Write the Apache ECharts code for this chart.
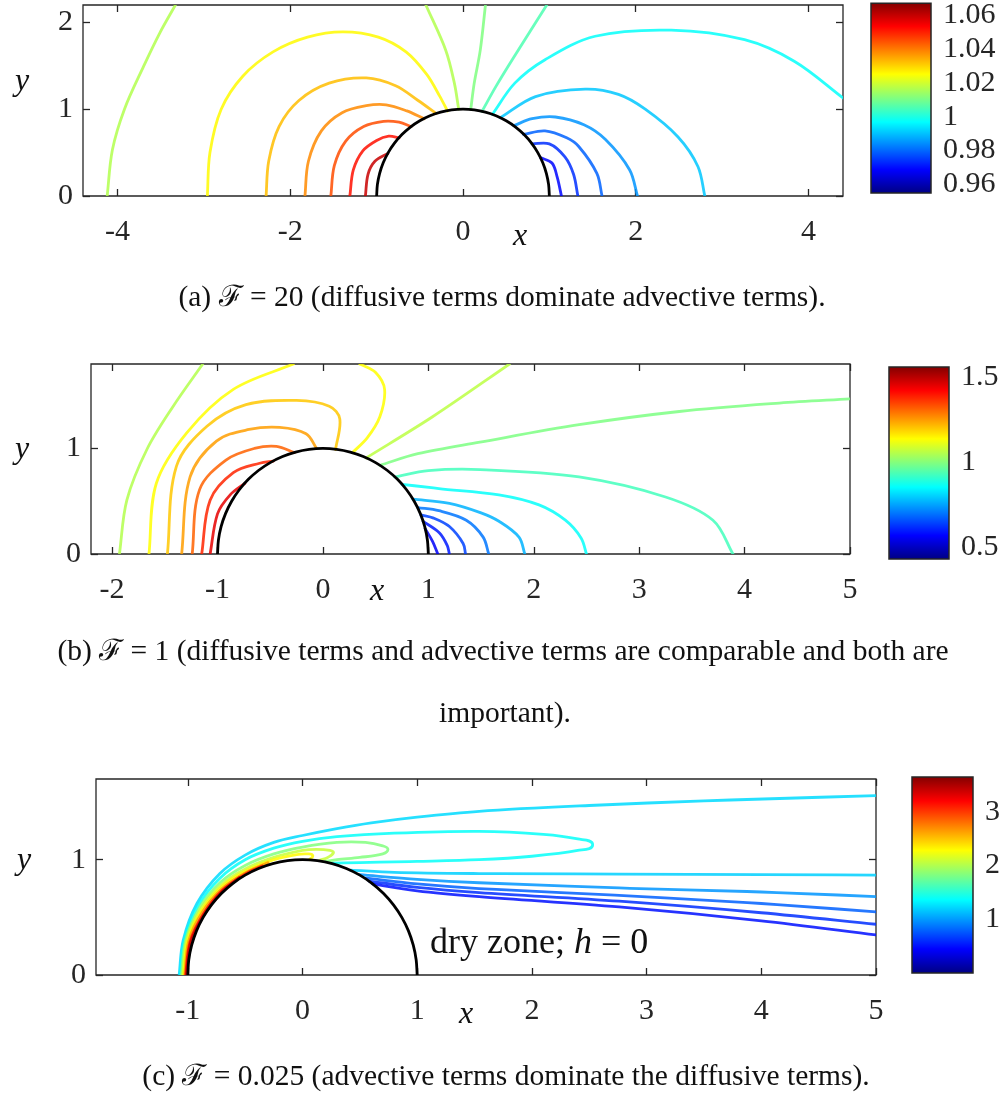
<!DOCTYPE html>
<html><head><meta charset="utf-8">
<script src="https://cdn.jsdelivr.net/npm/echarts@6/dist/echarts.min.js"></script>
<style>html,body{margin:0;padding:0;background:#fff}#c{width:1007px;height:1095px}</style>
</head><body><div id="c"></div>
<script>
// ---------- shared: dry-zone boundary (unit semicircle outline)
const circle = [[-1,0],[-0.9914,0.1305],[-0.9659,0.2588],[-0.9239,0.3827],[-0.866,0.5],[-0.7934,0.6088],[-0.7071,0.7071],[-0.6088,0.7934],[-0.5,0.866],[-0.3827,0.9239],[-0.2588,0.9659],[-0.1305,0.9914],[0,1],
  [0.1305,0.9914],[0.2588,0.9659],[0.3827,0.9239],[0.5,0.866],[0.6088,0.7934],[0.7071,0.7071],[0.7934,0.6088],[0.866,0.5],[0.9239,0.3827],[0.9659,0.2588],[0.9914,0.1305],[1,0]];

// ---------- panel (a): F = 20
const aXRange = [-4.4, 4.4];
const aYRange = [0, 2.2];
const aXTicks = [-4, -2, 0, 2, 4];
const aYTicks = [0, 1, 2];
const aBarRange = [0.955, 1.067];
const aBarTicks = [0.96, 0.98, 1, 1.02, 1.04, 1.06];
const aLevels = [1.0166, 1.0256, 1.0323, 1.0379, 1.0446, 1.0513, 1.059, 1.0166, 1.011, 1.0054, 0.9976, 0.9908, 0.9852, 0.9796, 0.974, 0.9696];
const aLines = [
  [[-4.12,0],[-4.06,0.53],[-3.92,1.0],[-3.70,1.49],[-3.51,1.88],[-3.33,2.2]],
  [[-2.96,0],[-2.93,0.5],[-2.8,1.0],[-2.55,1.38],[-2.2,1.66],[-1.8,1.83],[-1.39,1.89],[-0.98,1.83],[-0.66,1.66],[-0.42,1.4],[-0.27,1.15],[-0.18,0.98]],
  [[-2.28,0],[-2.25,0.4],[-2.13,0.8],[-1.9,1.1],[-1.55,1.3],[-1.12,1.36],[-0.78,1.27],[-0.52,1.1],[-0.31,0.95]],
  [[-1.83,0],[-1.79,0.4],[-1.64,0.75],[-1.4,0.96],[-1.12,1.04],[-0.89,1.05],[-0.65,0.98],[-0.45,0.89]],
  [[-1.53,0],[-1.49,0.35],[-1.36,0.63],[-1.15,0.8],[-0.92,0.86],[-0.74,0.85],[-0.6,0.8]],
  [[-1.31,0],[-1.27,0.3],[-1.16,0.52],[-1.0,0.64],[-0.86,0.69],[-0.74,0.67]],
  [[-1.13,0],[-1.1,0.25],[-1.02,0.4],[-0.87,0.49]],
  [[-0.43,2.2],[-0.2,1.68],[-0.1,1.3],[-0.05,1.0]],
  [[0.26,2.2],[0.2,1.68],[0.13,1.3],[0.09,1.0]],
  [[0.97,2.2],[0.57,1.57],[0.38,1.26],[0.22,0.975]],
  [[0.34,0.94],[0.6,1.3],[0.95,1.57],[1.53,1.84],[2.41,1.91],[3.26,1.80],[3.84,1.55],[4.4,1.13]],
  [[0.43,0.9],[0.84,1.145],[1.415,1.23],[1.8,1.17],[2.11,1.0],[2.49,0.68],[2.72,0.34],[2.80,0]],
  [[0.59,0.81],[0.8,0.89],[1.07,0.91],[1.4,0.82],[1.65,0.65],[1.93,0.3],[2.02,0]],
  [[0.7,0.71],[0.95,0.75],[1.2,0.67],[1.34,0.57],[1.55,0.26],[1.61,0]],
  [[0.8,0.6],[1.0,0.6],[1.18,0.45],[1.28,0.25],[1.33,0]],
  [[0.9,0.44],[1.03,0.38],[1.09,0.22],[1.14,0]]
];

// ---------- panel (b): F = 1
const bXRange = [-2.2, 5];
const bYRange = [0, 1.8];
const bXTicks = [-2, -1, 0, 1, 2, 3, 4, 5];
const bYTicks = [0, 1];
const bBarRange = [0.428, 1.557];
const bBarTicks = [0.5, 1, 1.5];
const bLevels = [1.049, 1.134, 1.134, 1.196, 1.241, 1.309, 1.376, 1.444, 1.06, 0.99, 0.925, 0.857, 0.767, 0.70, 0.642, 0.597, 0.56];
const bLines = [
  [[-1.93,0],[-1.86,0.51],[-1.67,0.99],[-1.42,1.40],[-1.14,1.8]],
  [[-1.65,0],[-1.58,0.67],[-1.29,1.15],[-0.85,1.56],[-0.28,1.8]],
  [[0.35,1.8],[0.5,1.72],[0.585,1.56],[0.54,1.30],[0.42,1.1],[0.28,0.96]],
  [[-1.475,0],[-1.39,0.83],[-1.1,1.21],[-0.73,1.415],[-0.25,1.455],[0.06,1.40],[0.16,1.28],[0.12,0.99]],
  [[-1.34,0],[-1.26,0.73],[-1.01,1.07],[-0.7,1.18],[-0.41,1.20],[-0.16,1.14],[-0.06,1.0]],
  [[-1.24,0],[-1.17,0.61],[-0.92,0.89],[-0.65,1.0],[-0.44,1.02],[-0.27,0.96]],
  [[-1.15,0],[-1.07,0.51],[-0.85,0.77],[-0.6,0.86],[-0.47,0.88]],
  [[-1.07,0],[-1.0,0.38],[-0.88,0.56],[-0.74,0.67]],
  [[0.41,0.91],[1.04,1.30],[1.77,1.8]],
  [[0.54,0.84],[0.9,0.95],[1.49,1.06],[2.43,1.225],[3.38,1.35],[4.33,1.43],[5.0,1.47]],
  [[0.68,0.73],[1.0,0.79],[1.49,0.80],[2.43,0.73],[3.25,0.54],[3.70,0.32],[3.89,0]],
  [[0.75,0.66],[1.1,0.62],[1.67,0.56],[2.05,0.465],[2.3,0.32],[2.45,0.15],[2.5,0]],
  [[0.855,0.52],[1.2,0.48],[1.5,0.39],[1.67,0.31],[1.86,0.16],[1.915,0]],
  [[0.9,0.44],[1.1,0.41],[1.36,0.32],[1.52,0.16],[1.573,0]],
  [[0.93,0.37],[1.05,0.34],[1.2,0.26],[1.33,0.1],[1.353,0]],
  [[0.95,0.31],[1.106,0.2],[1.18,0.08],[1.2,0]],
  [[0.97,0.24],[1.04,0.12],[1.09,0]]
];

// ---------- panel (c): F = 0.025
const cXRange = [-1.8, 5];
const cYRange = [0, 1.7];
const cXTicks = [-1, 0, 1, 2, 3, 4, 5];
const cYTicks = [0, 1];
const cBarRange = [0, 3.65];
const cBarTicks = [1, 2, 3];
const cLevels = [1.24, 1.39, 1.83, 2.08, 2.30, 2.63, 3.10, 3.39, 1.2, 0.99, 0.80, 0.62, 0.51];
const cLines = [
  [[-1.075,0],[-1.04,0.3],[-0.92,0.62],[-0.72,0.88],[-0.5,1.04],[-0.25,1.15],[0,1.21],[0.3,1.27],[0.6,1.32],[1.0,1.37],[1.54,1.42],[2.5,1.47],[3.5,1.51],[5.0,1.556]],
  [[-1.065,0],[-1.03,0.3],[-0.91,0.6],[-0.72,0.84],[-0.5,1.0],[-0.25,1.1],[0,1.16],[0.3,1.2],[0.8,1.23],[1.54,1.246],[2.1,1.22],[2.4,1.18],[2.53,1.13],[2.4,1.08],[2.0,1.03],[1.54,1.0],[1.0,0.985],[0.5,0.975],[0.25,0.97]],
  [[-1.055,0],[-1.02,0.3],[-0.9,0.58],[-0.72,0.8],[-0.5,0.95],[-0.25,1.05],[0,1.11],[0.3,1.15],[0.55,1.15],[0.7,1.12],[0.745,1.09],[0.7,1.05],[0.5,1.02],[0.3,1.0],[0.2,0.985]],
  [[-1.045,0],[-1.01,0.3],[-0.89,0.57],[-0.71,0.78],[-0.5,0.92],[-0.25,1.02],[0,1.08],[0.12,1.09],[0.24,1.08],[0.27,1.06],[0.22,1.02],[0.15,0.995]],
  [[-1.035,0],[-1.0,0.3],[-0.88,0.56],[-0.7,0.77],[-0.5,0.9],[-0.25,1.0],[-0.05,1.045],[0.05,1.05],[0.09,1.035],[0.06,1.0]],
  [[-1.027,0],[-0.99,0.3],[-0.87,0.55],[-0.7,0.75],[-0.5,0.885],[-0.3,0.975]],
  [[-1.019,0],[-0.98,0.29],[-0.86,0.535],[-0.7,0.735],[-0.5,0.875],[-0.35,0.945]],
  [[-1.012,0],[-0.975,0.28],[-0.86,0.52],[-0.7,0.725],[-0.55,0.845]],
  [[0.42,0.91],[0.8,0.89],[1.54,0.88],[2.76,0.875],[4.0,0.87],[5.0,0.867]],
  [[0.5,0.87],[1.0,0.83],[1.54,0.8],[2.76,0.755],[4.0,0.72],[5.0,0.68]],
  [[0.55,0.84],[1.0,0.79],[1.54,0.75],[2.76,0.69],[4.0,0.62],[5.0,0.548]],
  [[0.58,0.815],[1.0,0.76],[1.54,0.715],[2.76,0.64],[4.0,0.54],[5.0,0.44]],
  [[0.61,0.79],[1.0,0.73],[1.54,0.68],[2.76,0.59],[4.0,0.47],[5.0,0.348]]
];

// ---------- captions
const captionA = '(a) ℱ = 20 (diffusive terms dominate advective terms).';
const captionB1 = '(b) ℱ = 1 (diffusive terms and advective terms are comparable and both are';
const captionB2 = 'important).';
const captionC = '(c) ℱ = 0.025 (advective terms dominate the diffusive terms).';

// ================= rendering =================
const FONT = '"Liberation Serif","Times New Roman",serif';
const INK = '#262626';
function jet(f){
  f = Math.max(0, Math.min(1, f));
  const c = t => Math.round(255 * Math.max(0, Math.min(1, 1.5 - Math.abs(4 * f - t))));
  return 'rgb(' + c(3) + ',' + c(2) + ',' + c(1) + ')';
}
const jetStops = [0, 0.125, 0.25, 0.375, 0.5, 0.625, 0.75, 0.875, 1].map(o => ({offset: o, color: jet(o)}));

// smooth path through pixel points: tangent from neighbours, handle length = segment/3
function smoothPath(P){
  const n = P.length;
  const tan = i => {
    const a = P[Math.max(0, i - 1)], b = P[Math.min(n - 1, i + 1)];
    const dx = b[0] - a[0], dy = b[1] - a[1], L = Math.hypot(dx, dy) || 1;
    return [dx / L, dy / L];
  };
  let d = 'M' + P[0][0] + ',' + P[0][1];
  for (let i = 0; i < n - 1; i++) {
    const L = Math.hypot(P[i + 1][0] - P[i][0], P[i + 1][1] - P[i][1]) / 3;
    const t0 = tan(i), t1 = tan(i + 1);
    d += ' C' + (P[i][0] + t0[0] * L) + ',' + (P[i][1] + t0[1] * L) + ' ' +
         (P[i + 1][0] - t1[0] * L) + ',' + (P[i + 1][1] - t1[1] * L) + ' ' + P[i + 1][0] + ',' + P[i + 1][1];
  }
  return d;
}
function curveSeries(xi, yi, pts, color, width, opacity, z){
  return {type: 'custom', xAxisIndex: xi, yAxisIndex: yi, data: pts, encode: {x: 0, y: 1},
    silent: true, clip: true, z: z,
    renderItem: (params, api) => {
      if (params.dataIndex !== 0) return null;
      const P = pts.map(q => api.coord(q));
      return {type: 'path', shape: {pathData: smoothPath(P)},
        style: {fill: null, stroke: color, lineWidth: width, opacity: opacity, lineJoin: 'round', lineCap: 'round'}};
    }};
}

const panels = [
  {grid: {left: 83, top: 5, width: 760, height: 191}, bar: {left: 871, top: 2, width: 60, height: 191},
   xr: aXRange, yr: aYRange, xt: aXTicks, yt: aYTicks, br: aBarRange, bt: aBarTicks, lv: aLevels, ln: aLines},
  {grid: {left: 91, top: 364, width: 759, height: 190}, bar: {left: 889, top: 367, width: 60, height: 192},
   xr: bXRange, yr: bYRange, xt: bXTicks, yt: bYTicks, br: bBarRange, bt: bBarTicks, lv: bLevels, ln: bLines},
  {grid: {left: 96, top: 779, width: 780, height: 196}, bar: {left: 912, top: 777, width: 61, height: 196},
   xr: cXRange, yr: cYRange, xt: cXTicks, yt: cYTicks, br: cBarRange, bt: cBarTicks, lv: cLevels, ln: cLines}
];

const grid = [], xAxis = [], yAxis = [], series = [];
const labelStyle = {fontFamily: FONT, fontSize: 30, color: INK};
const noLine = {show: false, onZero: false};
panels.forEach(p => grid.push(Object.assign({show: true, borderColor: INK, borderWidth: 1.3, backgroundColor: 'transparent'}, p.grid)));
panels.forEach(p => grid.push(Object.assign({show: false}, p.bar)));
panels.forEach((p, i) => {
  const tick = vals => ({show: true, inside: true, length: 7, customValues: vals, lineStyle: {color: INK, width: 1.3}});
  xAxis.push({type: 'value', gridIndex: i, position: 'bottom', min: p.xr[0], max: p.xr[1],
    axisLine: noLine, splitLine: {show: false}, axisTick: tick(p.xt),
    axisLabel: Object.assign({customValues: p.xt, margin: 21, formatter: v => String(v)}, labelStyle)});
  xAxis.push({type: 'value', gridIndex: i, position: 'top', min: p.xr[0], max: p.xr[1],
    axisLine: noLine, splitLine: {show: false}, axisTick: tick(p.xt), axisLabel: {show: false}});
  yAxis.push({type: 'value', gridIndex: i, position: 'left', min: p.yr[0], max: p.yr[1],
    axisLine: noLine, splitLine: {show: false}, axisTick: tick(p.yt),
    axisLabel: Object.assign({customValues: p.yt, margin: 10, formatter: v => String(v)}, labelStyle)});
  yAxis.push({type: 'value', gridIndex: i, position: 'right', min: p.yr[0], max: p.yr[1],
    axisLine: noLine, splitLine: {show: false}, axisTick: tick(p.yt), axisLabel: {show: false}});
});
panels.forEach((p, k) => {
  xAxis.push({type: 'value', gridIndex: 3 + k, min: 0, max: 1, show: false, axisLine: noLine});
  yAxis.push({type: 'value', gridIndex: 3 + k, position: 'right', min: p.br[0], max: p.br[1],
    axisLine: noLine, splitLine: {show: false},
    axisTick: {show: true, inside: true, length: 5, customValues: p.bt, lineStyle: {color: INK, width: 1.3}},
    axisLabel: Object.assign({customValues: p.bt, margin: 12, formatter: v => String(v)}, labelStyle)});
});

panels.forEach((p, i) => {
  const span = p.br[1] - p.br[0];
  p.ln.forEach((pts, j) => {
    series.push(curveSeries(2 * i, 2 * i, pts, jet((p.lv[j] - p.br[0]) / span), 2.8, 0.85, 2));
  });
  series.push(curveSeries(2 * i, 2 * i, circle, '#000', 2.8, 1, 3));
  series.push({type: 'custom', xAxisIndex: 6 + i, yAxisIndex: 6 + i, silent: true, clip: false,
    data: [[0, p.br[0], 1, p.br[1]]], encode: {x: [0, 2], y: [1, 3]},
    renderItem: (params, api) => {
      const p0 = api.coord([api.value(0), api.value(1)]);
      const p1 = api.coord([api.value(2), api.value(3)]);
      return {type: 'rect', shape: {x: p0[0], y: p1[1], width: p1[0] - p0[0], height: p0[1] - p1[1]},
        style: {fill: {type: 'linear', x: 0, y: 1, x2: 0, y2: 0, colorStops: jetStops}, stroke: INK, lineWidth: 1.5}};
    }});
});

const txt = (x, y, text, size, italic, align) => ({type: 'text', x: x, y: y, silent: true,
  style: {text: text, fontFamily: FONT, fontSize: size, fontStyle: italic ? 'italic' : 'normal', fill: '#111',
    textAlign: align || 'center', textVerticalAlign: 'middle'}});

const graphic = [
  txt(22, 82, 'y', 32, true), txt(520, 237, 'x', 32, true),
  txt(22, 450, 'y', 32, true), txt(377, 592, 'x', 32, true),
  txt(24, 861, 'y', 32, true), txt(466, 1015, 'x', 32, true),
  txt(502, 298, captionA, 29.5, false),
  txt(503, 652, captionB1, 29.5, false),
  txt(505, 714, captionB2, 29.5, false),
  txt(506, 1077, captionC, 29.5, false),
  {type: 'text', x: 430, y: 944, silent: true, style: {
    text: '{n|dry zone; }{i|h}{n| = 0}', textVerticalAlign: 'middle', textAlign: 'left',
    rich: {n: {fontFamily: FONT, fontSize: 36, fill: '#111'}, i: {fontFamily: FONT, fontSize: 36, fontStyle: 'italic', fill: '#111'}}}}
];

const chart = echarts.init(document.getElementById('c'), null, {renderer: 'canvas'});
chart.setOption({animation: false, backgroundColor: '#fff', grid, xAxis, yAxis, series, graphic});
</script></body></html>
